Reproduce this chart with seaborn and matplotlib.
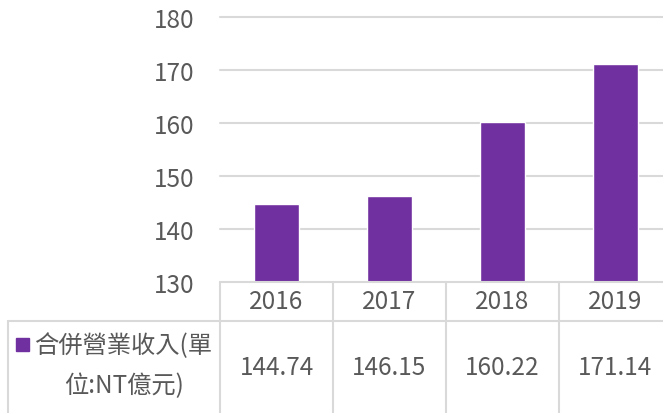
import numpy as np
import pandas as pd
import seaborn as sns
import matplotlib.pyplot as plt
from matplotlib.lines import Line2D
from matplotlib.patches import Rectangle

# data
years = ["2016", "2017", "2018", "2019"]
revenue = [144.74, 146.15, 160.22, 171.14]
series_name = ["合併營業收入(單", "位:NT億元)"]
y_ticks = [130, 140, 150, 160, 170, 180]

sns.set_theme(style="white")
plt.rcParams['font.family'] = ['Noto Sans CJK TC', 'DejaVu Sans']

W, H = 663, 414
bar_color = "#7030A0"
grid_color = "#D9D9D9"
text_color = "#595959"
fs = 17.5

df = pd.DataFrame({"year": years, "revenue": revenue})

fig = plt.figure(figsize=(W / 100, H / 100), dpi=100)
# plot area: x 220..672 px, y 18..283 px (from top)
ax = fig.add_axes([220 / W, (H - 283) / H, 452 / W, 265 / H])

sns.barplot(data=df, x="year", y="revenue", color=bar_color, width=0.4,
            saturation=1, ax=ax, zorder=3)
ax.set_ylim(130, 180)
ax.set_xlim(-0.5, 3.5)
ax.set_yticks(y_ticks)
ax.set_yticklabels([str(t) for t in y_ticks], fontsize=fs, color=text_color)
ax.tick_params(axis="y", length=0, pad=18)
ax.set_xticks([])
ax.set_xlabel("")
ax.set_ylabel("")
for t in y_ticks[1:]:
    ax.axhline(t, color=grid_color, lw=1.5, zorder=1, clip_on=False)
for s in ax.spines.values():
    s.set_visible(False)

# data table under the plot
def px(x, y):
    return x / W, 1 - y / H

line_kw = dict(color=grid_color, lw=1.5, transform=fig.transFigure)
col_edges = [220, 333, 446, 559]
fig.add_artist(Line2D([px(220, 0)[0], 1], [px(0, 283)[1]] * 2, **line_kw))
fig.add_artist(Line2D([px(8, 0)[0], 1], [px(0, 322)[1]] * 2, **line_kw))
fig.add_artist(Line2D([px(8, 0)[0]] * 2, [px(0, 322)[1], 0], **line_kw))
for xe in col_edges:
    fig.add_artist(Line2D([px(xe, 0)[0]] * 2, [px(0, 283)[1], 0], **line_kw))

for i, (yr, v) in enumerate(zip(years, revenue)):
    xc = ax.transData.transform((i, 0))[0] / W
    fig.text(xc, px(0, 302)[1], yr, ha="center", va="center",
             fontsize=fs, color=text_color)
    fig.text(xc, px(0, 368)[1], f"{v:.2f}", ha="center", va="center",
             fontsize=fs, color=text_color)

fig.add_artist(Rectangle(px(16, 352), 13 / W, 13 / H, color=bar_color,
                         transform=fig.transFigure))
fig.text(*px(123, 346), series_name[0], ha="center", va="center",
         fontsize=fs, color=text_color)
fig.text(*px(124, 386), series_name[1], ha="center", va="center",
         fontsize=fs, color=text_color)

fig.savefig("out.png", dpi=100)
